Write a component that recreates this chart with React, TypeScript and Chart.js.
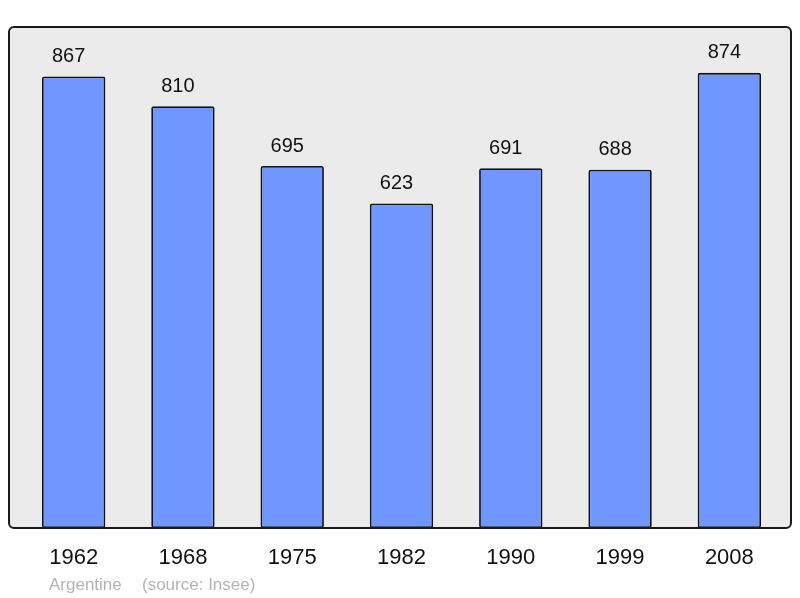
import React, { useEffect, useRef } from "react";
import { Chart, registerables } from "chart.js";

Chart.register(...registerables);

const years = ["1962", "1968", "1975", "1982", "1990", "1999", "2008"];
const population = [867, 810, 695, 623, 691, 688, 874];
const footerPlace = "Argentine";
const footerSource = "(source: Insee)";

const FONT = "'Liberation Sans', Arial, sans-serif";

export default function App() {
  const ref = useRef<HTMLCanvasElement | null>(null);

  useEffect(() => {
    document.body.style.margin = "0";
    const canvas = ref.current;
    if (!canvas) return;

    const framePlugin = {
      id: "frame",
      beforeDatasetsDraw(chart: any) {
        const { ctx, chartArea } = chart;
        const l = chartArea.left - 10, r = chartArea.right + 7;
        const t = chartArea.top, b = chartArea.bottom;
        ctx.save();
        ctx.beginPath();
        ctx.roundRect(l, t, r - l, b - t, 5);
        ctx.fillStyle = "#ebebeb";
        ctx.fill();
        ctx.restore();
      },
      afterDatasetsDraw(chart: any) {
        const { ctx, chartArea } = chart;
        const l = chartArea.left - 10, r = chartArea.right + 7;
        const t = chartArea.top, b = chartArea.bottom;
        ctx.save();
        ctx.beginPath();
        ctx.roundRect(l, t, r - l, b - t, 5);
        ctx.lineWidth = 2;
        ctx.strokeStyle = "#1a1a1a";
        ctx.stroke();
        // value labels
        const meta = chart.getDatasetMeta(0);
        ctx.fillStyle = "#111";
        ctx.font = `20px ${FONT}`;
        ctx.textAlign = "center";
        ctx.textBaseline = "middle";
        meta.data.forEach((bar: any, i: number) => {
          ctx.fillText(String(chart.data.datasets[0].data[i]), bar.x - 5, bar.y - 20);
        });
        ctx.restore();
      },
    };

    const chart = new Chart(canvas, {
      type: "bar",
      data: {
        labels: years,
        datasets: [
          {
            data: population,
            backgroundColor: "#7096ff",
            borderColor: "#111",
            borderWidth: 1.8,
            borderRadius: 2,
            borderSkipped: false,
            barPercentage: 0.58,
            categoryPercentage: 1,
          },
        ],
      },
      options: {
        responsive: false,
        animation: false,
        layout: { padding: { left: 19, right: 16, top: 27, bottom: 0 } },
        plugins: { legend: { display: false }, tooltip: { enabled: false } },
        scales: {
          y: { display: false, min: 0, max: 962 },
          x: {
            grid: { display: false, drawTicks: false, tickLength: 0 },
            border: { display: false },
            ticks: {
              color: "#111",
              font: { family: FONT, size: 22 },
              padding: 17,
              maxRotation: 0,
              autoSkip: false,
            },
            afterFit(scale: any) {
              scale.height = 70;
            },
          },
        },
      },
      plugins: [framePlugin],
    });
    return () => chart.destroy();
  }, []);

  const footStyle: React.CSSProperties = {
    position: "absolute",
    top: 575,
    fontFamily: FONT,
    fontSize: 17,
    color: "#b4b4b4",
    lineHeight: "20px",
    whiteSpace: "nowrap",
  };

  return (
    <div style={{ position: "relative", width: 800, height: 598 }}>
      <canvas ref={ref} width={800} height={598} style={{ display: "block" }} />
      <span style={{ ...footStyle, left: 49 }}>{footerPlace}</span>
      <span style={{ ...footStyle, left: 142 }}>{footerSource}</span>
    </div>
  );
}
